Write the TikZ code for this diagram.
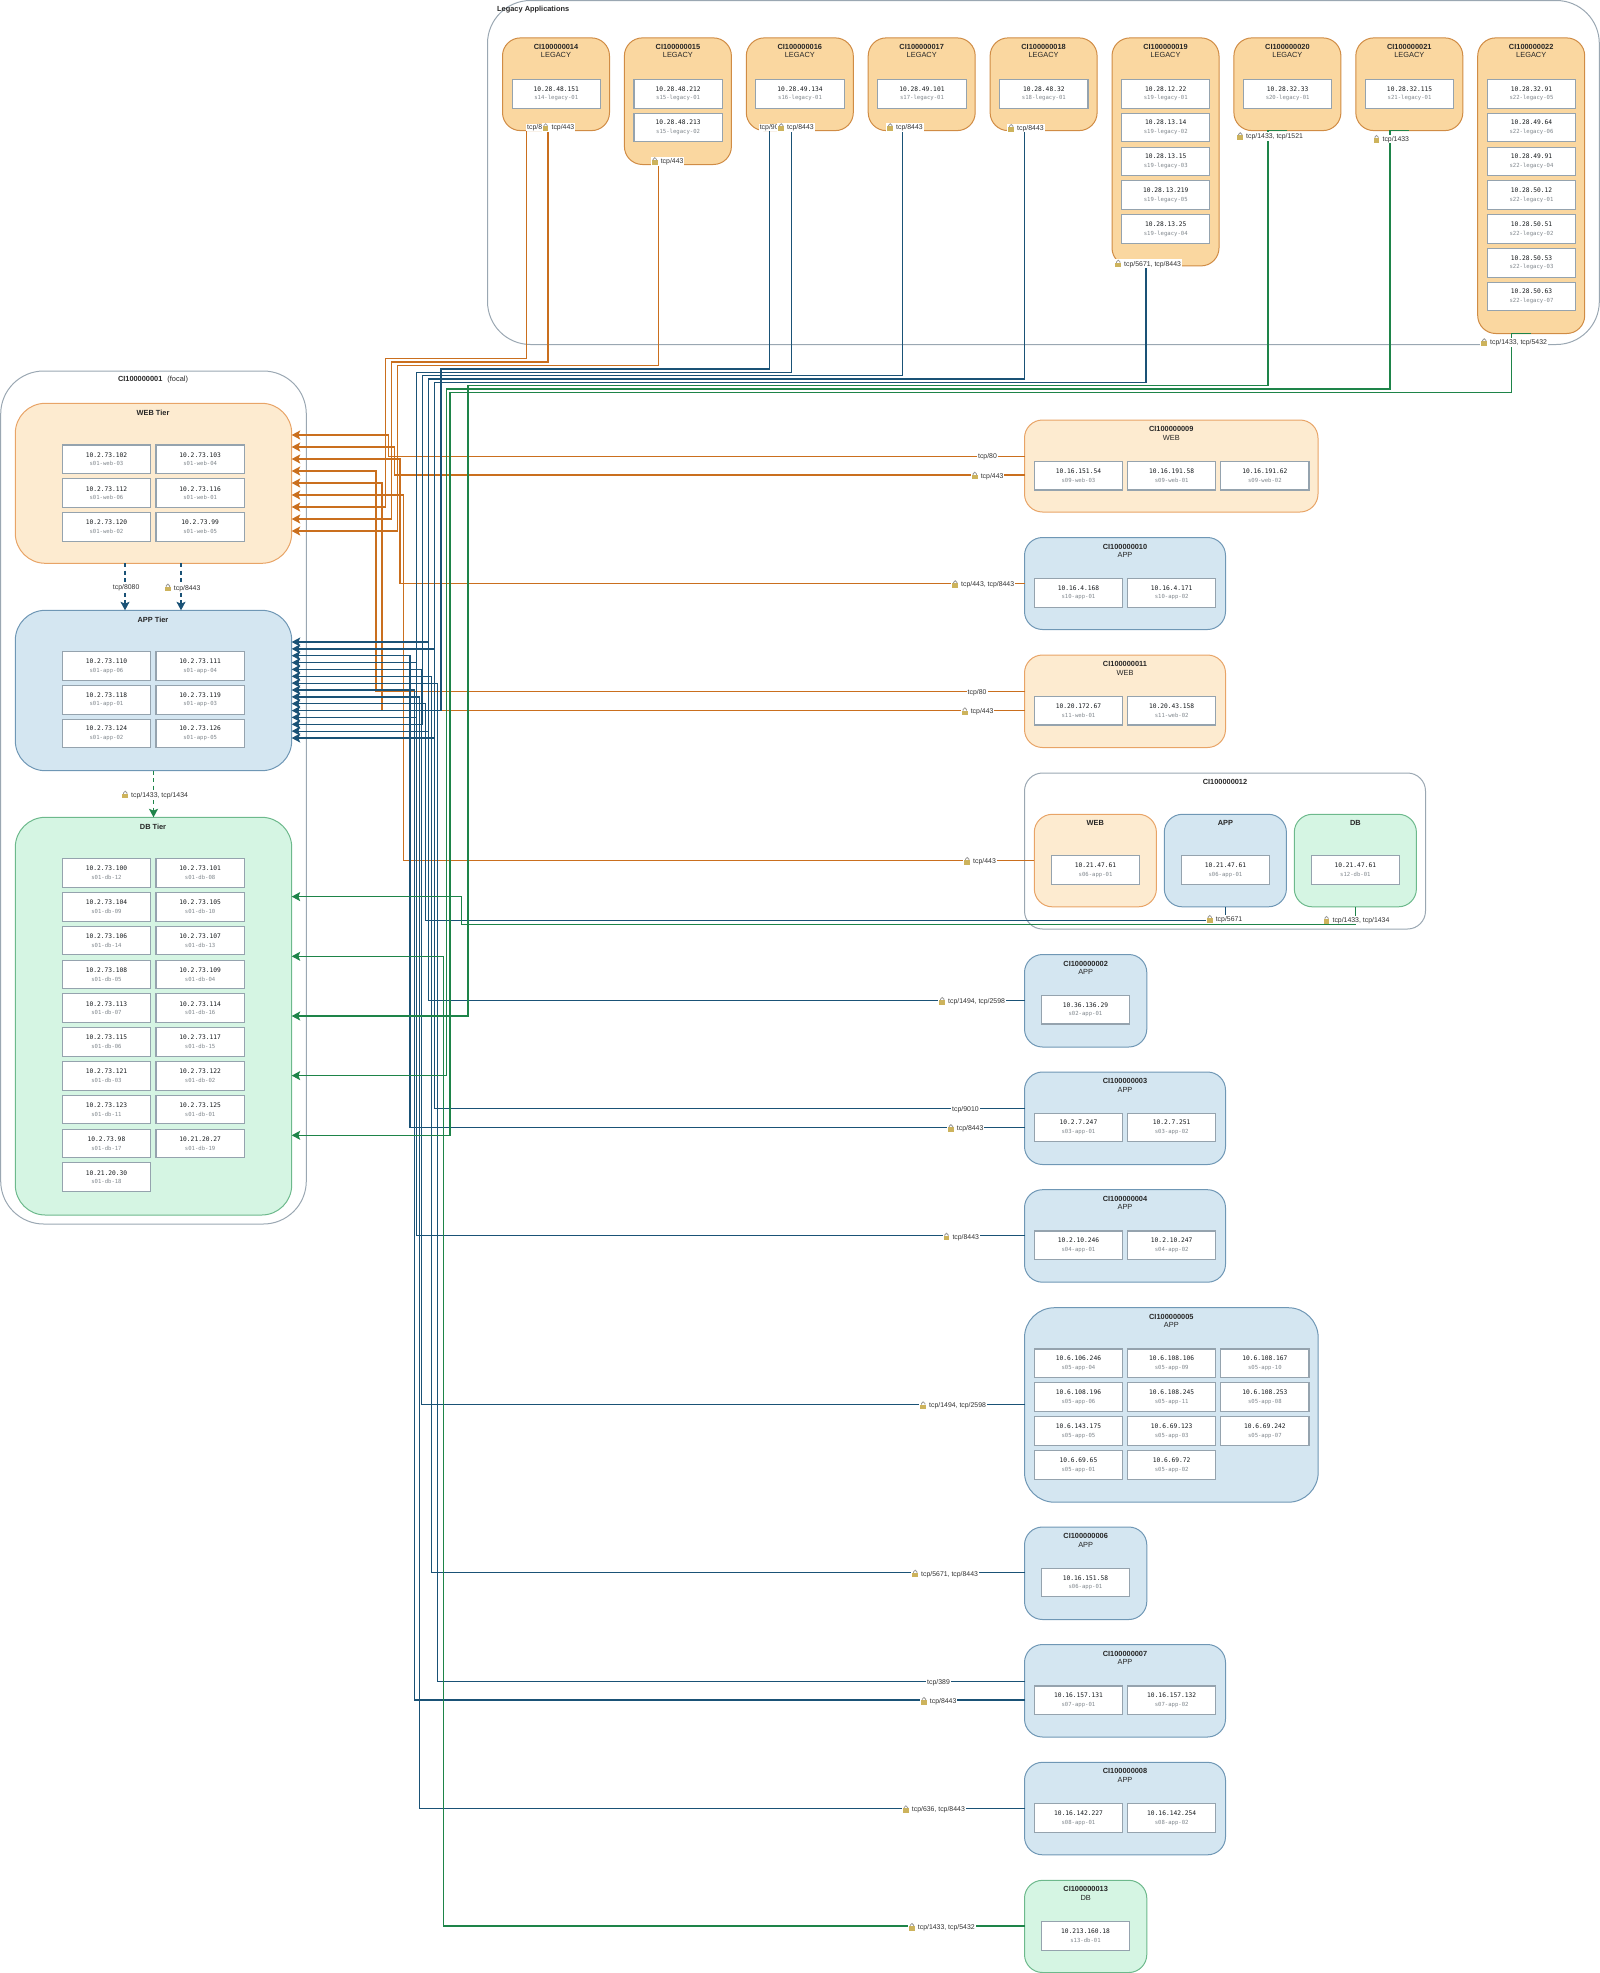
\documentclass[tikz,border=0pt]{standalone}
\usepackage{fontspec}
\setmainfont{Liberation Sans}
\setmonofont{DejaVu Sans Mono}
\usepackage{tikz}
\usepackage{xcolor}
\usetikzlibrary{arrows.meta, positioning, calc}

\definecolor{webfill}{HTML}{FDEBD0}
\definecolor{webline}{HTML}{E8A467}
\definecolor{webflow}{HTML}{CA6F1E}
\definecolor{appfill}{HTML}{D4E6F1}
\definecolor{appline}{HTML}{6F97B5}
\definecolor{appflow}{HTML}{1A5276}
\definecolor{dbfill}{HTML}{D5F5E3}
\definecolor{dbline}{HTML}{6DB98C}
\definecolor{dbflow}{HTML}{1E8449}
\definecolor{legacyfill}{HTML}{FAD7A0}
\definecolor{legacyline}{HTML}{D08C45}
\definecolor{groupline}{HTML}{9AA7B2}
\definecolor{hostline}{HTML}{95A3AE}
\definecolor{iptext}{HTML}{15191C}
\definecolor{nametext}{HTML}{80878D}
\definecolor{lockgold}{HTML}{CDB35C}
\definecolor{lockgrey}{HTML}{9A9A9A}

\newcommand{\hosttxt}[2]{{\fontsize{6.25}{8.7}\selectfont\ttfamily\color{iptext}#1}\\{\fontsize{5.6}{8.7}\selectfont\ttfamily\color{nametext}#2}}
\newcommand{\lockicon}{\tikz[x=1pt,y=1pt,baseline=1pt]{\fill[lockgold] (0,0) rectangle (5.6,4.4); \draw[lockgrey,line width=.8pt] (1.1,4.4) -- (1.1,5.4) arc (180:0:1.7) -- (4.5,4.4);}}
\newcommand{\locklabel}[1]{\lockicon\hspace{3.2pt}#1}

\begin{document}
\begin{tikzpicture}[
            x=1pt, y=-1pt,
            boxsize/.style 2 args={minimum width=#1pt, minimum height=#2pt},
            container/.style={rectangle, anchor=north west, inner sep=0pt, outer sep=0pt, line width=1pt, rounded corners=18pt},
            groupbox/.style={container, draw=groupline, rounded corners=43pt},
            ciplain/.style={container, draw=groupline},
            webbox/.style={container, draw=webline, fill=webfill},
            appbox/.style={container, draw=appline, fill=appfill},
            dbbox/.style={container, draw=dbline, fill=dbfill},
            legacybox/.style={container, draw=legacyline, fill=legacyfill, boxsize={107}{#1}},
            tier/.style={rounded corners=30pt, boxsize={276.4}{#1}},
            hostbox/.style={rectangle, anchor=north west, draw=hostline, fill=white, line width=1.1pt, inner sep=0pt, outer sep=0pt, boxsize={88.3}{28.6}, align=center, font=\fontsize{6.25}{8.7}\selectfont},
            titletext/.style={align=center, inner sep=0pt, text=black!85, font=\fontsize{7.4}{8.5}\selectfont},
            flowlabel/.style={anchor=west, fill=white, inner xsep=1pt, inner ysep=.5pt, text=black!80, font=\fontsize{6.9}{8}\selectfont},
            link/.style={line width=1.2pt, -{Stealth[length=8.5pt, width=9pt, inset=1.8pt]}},
            weblink/.style={link, draw=webflow!85, color=webflow},
            applink/.style={link, draw=appflow!85, color=appflow},
            dblink/.style={link, draw=dbflow!80, color=dbflow},
            tierdash/.style={dash pattern=on 4pt off 3.4pt}
        ]
\useasboundingbox (0,0) rectangle (1600,1973);

% Legacy group
\node[groupbox, boxsize={1111.8}{344}] (legacy) at (487.5,0.5) {};
\node[titletext, anchor=west, font=\fontsize{7.4}{8.5}\selectfont\bfseries] (legacyt) at (497,9.6) {Legacy Applications};

% Focal group
\node[groupbox, boxsize={305.6}{853}] (focal) at (0.7,371) {};
\node[titletext] (focalt) at (153,380) {\textbf{CI100000001}\hspace{5pt}(focal)};

% Focal tiers
\node[webbox, tier={160}] (webtier) at (15.3,403.3) {};
\node[titletext, font=\fontsize{7.4}{8.5}\selectfont\bfseries] (webtiert) at (153,412.8) {WEB Tier};
\node[appbox, tier={160.4}] (apptier) at (15.3,610.3) {};
\node[titletext, font=\fontsize{7.4}{8.5}\selectfont\bfseries] (apptiert) at (153,619.8) {APP Tier};
\node[dbbox, tier={397.7}] (dbtier) at (15.3,817.3) {};
\node[titletext, font=\fontsize{7.4}{8.5}\selectfont\bfseries] (dbtiert) at (153,826.5) {DB Tier};

% Web tier hosts
\node[hostbox] (w1) at (62.3,445) {\hosttxt{10.2.73.102}{s01-web-03}};
\node[hostbox] (w2) at (156,445) {\hosttxt{10.2.73.103}{s01-web-04}};
\node[hostbox] (w3) at (62.3,478.8) {\hosttxt{10.2.73.112}{s01-web-06}};
\node[hostbox] (w4) at (156,478.8) {\hosttxt{10.2.73.116}{s01-web-01}};
\node[hostbox] (w5) at (62.3,512.6) {\hosttxt{10.2.73.120}{s01-web-02}};
\node[hostbox] (w6) at (156,512.6) {\hosttxt{10.2.73.99}{s01-web-05}};

% App tier hosts
\node[hostbox] (a1) at (62.3,651.7) {\hosttxt{10.2.73.110}{s01-app-06}};
\node[hostbox] (a2) at (156,651.7) {\hosttxt{10.2.73.111}{s01-app-04}};
\node[hostbox] (a3) at (62.3,685.5) {\hosttxt{10.2.73.118}{s01-app-01}};
\node[hostbox] (a4) at (156,685.5) {\hosttxt{10.2.73.119}{s01-app-03}};
\node[hostbox] (a5) at (62.3,719.3) {\hosttxt{10.2.73.124}{s01-app-02}};
\node[hostbox] (a6) at (156,719.3) {\hosttxt{10.2.73.126}{s01-app-05}};

% DB tier hosts
\node[hostbox] (d1) at (62.3,858.7) {\hosttxt{10.2.73.100}{s01-db-12}};
\node[hostbox] (d2) at (156,858.7) {\hosttxt{10.2.73.101}{s01-db-08}};
\node[hostbox] (d3) at (62.3,892.5) {\hosttxt{10.2.73.104}{s01-db-09}};
\node[hostbox] (d4) at (156,892.5) {\hosttxt{10.2.73.105}{s01-db-10}};
\node[hostbox] (d5) at (62.3,926.3) {\hosttxt{10.2.73.106}{s01-db-14}};
\node[hostbox] (d6) at (156,926.3) {\hosttxt{10.2.73.107}{s01-db-13}};
\node[hostbox] (d7) at (62.3,960.1) {\hosttxt{10.2.73.108}{s01-db-05}};
\node[hostbox] (d8) at (156,960.1) {\hosttxt{10.2.73.109}{s01-db-04}};
\node[hostbox] (d9) at (62.3,993.9) {\hosttxt{10.2.73.113}{s01-db-07}};
\node[hostbox] (d10) at (156,993.9) {\hosttxt{10.2.73.114}{s01-db-16}};
\node[hostbox] (d11) at (62.3,1027.7) {\hosttxt{10.2.73.115}{s01-db-06}};
\node[hostbox] (d12) at (156,1027.7) {\hosttxt{10.2.73.117}{s01-db-15}};
\node[hostbox] (d13) at (62.3,1061.5) {\hosttxt{10.2.73.121}{s01-db-03}};
\node[hostbox] (d14) at (156,1061.5) {\hosttxt{10.2.73.122}{s01-db-02}};
\node[hostbox] (d15) at (62.3,1095.3) {\hosttxt{10.2.73.123}{s01-db-11}};
\node[hostbox] (d16) at (156,1095.3) {\hosttxt{10.2.73.125}{s01-db-01}};
\node[hostbox] (d17) at (62.3,1129.1) {\hosttxt{10.2.73.98}{s01-db-17}};
\node[hostbox] (d18) at (156,1129.1) {\hosttxt{10.21.20.27}{s01-db-19}};
\node[hostbox] (d19) at (62.3,1162.9) {\hosttxt{10.21.20.30}{s01-db-18}};

% Legacy applications
\node[legacybox={92.7}] (ci14) at (502.5,37.9) {};
\node[titletext] (ci14t) at ([yshift=-13.2pt]ci14.north) {\textbf{CI100000014}\\LEGACY};
\node[hostbox] (h14a) at (512.1,79.5) {\hosttxt{10.28.48.151}{s14-legacy-01}};

\node[legacybox={126.6}] (ci15) at (624.4,37.9) {};
\node[titletext] (ci15t) at ([yshift=-13.2pt]ci15.north) {\textbf{CI100000015}\\LEGACY};
\node[hostbox] (h15a) at (634,79.5) {\hosttxt{10.28.48.212}{s15-legacy-01}};
\node[hostbox] (h15b) at (634,113.3) {\hosttxt{10.28.48.213}{s15-legacy-02}};

\node[legacybox={92.7}] (ci16) at (746.3,37.9) {};
\node[titletext] (ci16t) at ([yshift=-13.2pt]ci16.north) {\textbf{CI100000016}\\LEGACY};
\node[hostbox] (h16a) at (755.9,79.5) {\hosttxt{10.28.49.134}{s16-legacy-01}};

\node[legacybox={92.7}] (ci17) at (868.2,37.9) {};
\node[titletext] (ci17t) at ([yshift=-13.2pt]ci17.north) {\textbf{CI100000017}\\LEGACY};
\node[hostbox] (h17a) at (877.8,79.5) {\hosttxt{10.28.49.101}{s17-legacy-01}};

\node[legacybox={92.7}] (ci18) at (990.1,37.9) {};
\node[titletext] (ci18t) at ([yshift=-13.2pt]ci18.north) {\textbf{CI100000018}\\LEGACY};
\node[hostbox] (h18a) at (999.7,79.5) {\hosttxt{10.28.48.32}{s18-legacy-01}};

\node[legacybox={228}] (ci19) at (1112,37.9) {};
\node[titletext] (ci19t) at ([yshift=-13.2pt]ci19.north) {\textbf{CI100000019}\\LEGACY};
\node[hostbox] (h19a) at (1121.6,79.5) {\hosttxt{10.28.12.22}{s19-legacy-01}};
\node[hostbox] (h19b) at (1121.6,113.3) {\hosttxt{10.28.13.14}{s19-legacy-02}};
\node[hostbox] (h19c) at (1121.6,147.1) {\hosttxt{10.28.13.15}{s19-legacy-03}};
\node[hostbox] (h19d) at (1121.6,180.9) {\hosttxt{10.28.13.219}{s19-legacy-05}};
\node[hostbox] (h19e) at (1121.6,214.7) {\hosttxt{10.28.13.25}{s19-legacy-04}};

\node[legacybox={92.7}] (ci20) at (1233.9,37.9) {};
\node[titletext] (ci20t) at ([yshift=-13.2pt]ci20.north) {\textbf{CI100000020}\\LEGACY};
\node[hostbox] (h20a) at (1243.5,79.5) {\hosttxt{10.28.32.33}{s20-legacy-01}};

\node[legacybox={92.7}] (ci21) at (1355.8,37.9) {};
\node[titletext] (ci21t) at ([yshift=-13.2pt]ci21.north) {\textbf{CI100000021}\\LEGACY};
\node[hostbox] (h21a) at (1365.4,79.5) {\hosttxt{10.28.32.115}{s21-legacy-01}};

\node[legacybox={295.6}] (ci22) at (1477.7,37.9) {};
\node[titletext] (ci22t) at ([yshift=-13.2pt]ci22.north) {\textbf{CI100000022}\\LEGACY};
\node[hostbox] (h22a) at (1487.3,79.5) {\hosttxt{10.28.32.91}{s22-legacy-05}};
\node[hostbox] (h22b) at (1487.3,113.3) {\hosttxt{10.28.49.64}{s22-legacy-06}};
\node[hostbox] (h22c) at (1487.3,147.1) {\hosttxt{10.28.49.91}{s22-legacy-04}};
\node[hostbox] (h22d) at (1487.3,180.9) {\hosttxt{10.28.50.12}{s22-legacy-01}};
\node[hostbox] (h22e) at (1487.3,214.7) {\hosttxt{10.28.50.51}{s22-legacy-02}};
\node[hostbox] (h22f) at (1487.3,248.5) {\hosttxt{10.28.50.53}{s22-legacy-03}};
\node[hostbox] (h22g) at (1487.3,282.3) {\hosttxt{10.28.50.63}{s22-legacy-07}};

% Web peers
\node[webbox, boxsize={293.5}{92}] (ci09) at (1024.5,420) {};
\node[titletext] (ci09t) at ([yshift=-13.2pt]ci09.north) {\textbf{CI100000009}\\WEB};
\node[hostbox] (h09a) at (1034.3,461.4) {\hosttxt{10.16.151.54}{s09-web-03}};
\node[hostbox] (h09b) at (1127.5,461.4) {\hosttxt{10.16.191.58}{s09-web-01}};
\node[hostbox] (h09c) at (1220.7,461.4) {\hosttxt{10.16.191.62}{s09-web-02}};

\node[appbox, boxsize={201}{92}] (ci10) at (1024.5,537.5) {};
\node[titletext] (ci10t) at ([yshift=-13.2pt]ci10.north) {\textbf{CI100000010}\\APP};
\node[hostbox] (h10a) at (1034.3,578.6) {\hosttxt{10.16.4.168}{s10-app-01}};
\node[hostbox] (h10b) at (1127.5,578.6) {\hosttxt{10.16.4.171}{s10-app-02}};

\node[webbox, boxsize={201}{92.5}] (ci11) at (1024.5,655) {};
\node[titletext] (ci11t) at ([yshift=-13.2pt]ci11.north) {\textbf{CI100000011}\\WEB};
\node[hostbox] (h11a) at (1034.3,696.4) {\hosttxt{10.20.172.67}{s11-web-01}};
\node[hostbox] (h11b) at (1127.5,696.4) {\hosttxt{10.20.43.158}{s11-web-02}};

% Multi tier peer
\node[ciplain, boxsize={401}{156}] (ci12) at (1024.5,773) {};
\node[titletext, font=\fontsize{7.4}{8.5}\selectfont\bfseries] (ci12t) at ([yshift=-8.6pt]ci12.north) {CI100000012};
\node[webbox, boxsize={122.1}{92.5}] (c12web) at (1034.3,814.3) {};
\node[titletext, font=\fontsize{7.4}{8.5}\selectfont\bfseries] (c12webt) at ([yshift=-8.6pt]c12web.north) {WEB};
\node[appbox, boxsize={122.1}{92.5}] (c12app) at (1164.3,814.3) {};
\node[titletext, font=\fontsize{7.4}{8.5}\selectfont\bfseries] (c12appt) at ([yshift=-8.6pt]c12app.north) {APP};
\node[dbbox, boxsize={122.1}{92.5}] (c12db) at (1294.3,814.3) {};
\node[titletext, font=\fontsize{7.4}{8.5}\selectfont\bfseries] (c12dbt) at ([yshift=-8.6pt]c12db.north) {DB};
\node[hostbox] (h12a) at (1051.4,855.7) {\hosttxt{10.21.47.61}{s06-app-01}};
\node[hostbox] (h12b) at (1181.3,855.7) {\hosttxt{10.21.47.61}{s06-app-01}};
\node[hostbox] (h12c) at (1311.2,855.7) {\hosttxt{10.21.47.61}{s12-db-01}};

% App peers
\node[appbox, boxsize={122.3}{92.5}] (ci02) at (1024.5,954.5) {};
\node[titletext] (ci02t) at ([yshift=-13.2pt]ci02.north) {\textbf{CI100000002}\\APP};
\node[hostbox] (h02a) at (1041.3,995.4) {\hosttxt{10.36.136.29}{s02-app-01}};

\node[appbox, boxsize={201}{92.5}] (ci03) at (1024.5,1072) {};
\node[titletext] (ci03t) at ([yshift=-13.2pt]ci03.north) {\textbf{CI100000003}\\APP};
\node[hostbox] (h03a) at (1034.3,1113.2) {\hosttxt{10.2.7.247}{s03-app-01}};
\node[hostbox] (h03b) at (1127.5,1113.2) {\hosttxt{10.2.7.251}{s03-app-02}};

\node[appbox, boxsize={201}{92.5}] (ci04) at (1024.5,1189.7) {};
\node[titletext] (ci04t) at ([yshift=-13.2pt]ci04.north) {\textbf{CI100000004}\\APP};
\node[hostbox] (h04a) at (1034.3,1231) {\hosttxt{10.2.10.246}{s04-app-01}};
\node[hostbox] (h04b) at (1127.5,1231) {\hosttxt{10.2.10.247}{s04-app-02}};

\node[appbox, rounded corners=30pt, boxsize={293.7}{194.5}] (ci05) at (1024.5,1307.7) {};
\node[titletext] (ci05t) at ([yshift=-13.2pt]ci05.north) {\textbf{CI100000005}\\APP};
\node[hostbox] (h05a) at (1034.3,1349) {\hosttxt{10.6.106.246}{s05-app-04}};
\node[hostbox] (h05b) at (1127.5,1349) {\hosttxt{10.6.108.106}{s05-app-09}};
\node[hostbox] (h05c) at (1220.7,1349) {\hosttxt{10.6.108.167}{s05-app-10}};
\node[hostbox] (h05d) at (1034.3,1382.9) {\hosttxt{10.6.108.196}{s05-app-06}};
\node[hostbox] (h05e) at (1127.5,1382.9) {\hosttxt{10.6.108.245}{s05-app-11}};
\node[hostbox] (h05f) at (1220.7,1382.9) {\hosttxt{10.6.108.253}{s05-app-08}};
\node[hostbox] (h05g) at (1034.3,1416.8) {\hosttxt{10.6.143.175}{s05-app-05}};
\node[hostbox] (h05h) at (1127.5,1416.8) {\hosttxt{10.6.69.123}{s05-app-03}};
\node[hostbox] (h05i) at (1220.7,1416.8) {\hosttxt{10.6.69.242}{s05-app-07}};
\node[hostbox] (h05j) at (1034.3,1450.7) {\hosttxt{10.6.69.65}{s05-app-01}};
\node[hostbox] (h05k) at (1127.5,1450.7) {\hosttxt{10.6.69.72}{s05-app-02}};

\node[appbox, boxsize={122.3}{92.5}] (ci06) at (1024.5,1527) {};
\node[titletext] (ci06t) at ([yshift=-13.2pt]ci06.north) {\textbf{CI100000006}\\APP};
\node[hostbox] (h06a) at (1041.3,1568.3) {\hosttxt{10.16.151.58}{s06-app-01}};

\node[appbox, boxsize={201}{92.5}] (ci07) at (1024.5,1644.5) {};
\node[titletext] (ci07t) at ([yshift=-13.2pt]ci07.north) {\textbf{CI100000007}\\APP};
\node[hostbox] (h07a) at (1034.3,1686) {\hosttxt{10.16.157.131}{s07-app-01}};
\node[hostbox] (h07b) at (1127.5,1686) {\hosttxt{10.16.157.132}{s07-app-02}};

\node[appbox, boxsize={201}{92.5}] (ci08) at (1024.5,1762.3) {};
\node[titletext] (ci08t) at ([yshift=-13.2pt]ci08.north) {\textbf{CI100000008}\\APP};
\node[hostbox] (h08a) at (1034.3,1803.7) {\hosttxt{10.16.142.227}{s08-app-01}};
\node[hostbox] (h08b) at (1127.5,1803.7) {\hosttxt{10.16.142.254}{s08-app-02}};

% DB peer
\node[dbbox, boxsize={122.3}{92.2}] (ci13) at (1024.5,1880.3) {};
\node[titletext] (ci13t) at ([yshift=-13.2pt]ci13.north) {\textbf{CI100000013}\\DB};
\node[hostbox] (h13a) at (1041.3,1921.7) {\hosttxt{10.213.160.18}{s13-db-01}};

% Arrow ends on the tiers
\foreach \k/\yy in {1/435,2/447,3/459,4/471,5/483,6/495,7/507,8/519,9/531}
    \coordinate (webin\k) at (webtier.east |- 0,\yy);
\foreach \k/\yy in {1/642,2/648.9,3/655.7,4/662.6,5/669.4,6/676.3,7/683.1,8/690,9/696.9,10/703.7,11/710.6,12/717.4,13/724.3,14/731.1,15/738}
    \coordinate (appin\k) at (apptier.east |- 0,\yy);
\foreach \k/\yy in {1/896.6,2/956.3,3/1016,4/1075.6,5/1135.3}
    \coordinate (dbin\k) at (dbtier.east |- 0,\yy);

% Web tier arrows
\draw[weblink] (ci09.west |- 0,456.2) -| (388.3,435) -- (webin1);
\draw[weblink] (ci09.west |- 0,475) -| (394.3,447) -- (webin2);
\draw[weblink] (ci10.west |- 0,583.2) -| (400,459) -- (webin3);
\draw[weblink] (ci11.west |- 0,691.4) -| (376,471) -- (webin4);
\draw[weblink] (ci11.west |- 0,710.5) -| (382,483) -- (webin5);
\draw[weblink] (c12web.west |- 0,860.3) -| (403.7,495) -- (webin6);
\draw[weblink] (ci14.south) -| (526.4,358.7) -| (385.3,507) -- (webin7);
\draw[weblink] (ci14.south) -| (547.9,362) -| (391.3,519) -- (webin8);
\draw[weblink] (ci15.south) -| (658.6,365.4) -| (397.3,531) -- (webin9);

% App tier arrows
\draw[applink] (ci02.west |- 0,1000.4) -| (428.3,642) -- (appin1);
\draw[applink] (ci03.west |- 0,1108.6) -| (434.3,648.9) -- (appin2);
\draw[applink] (ci03.west |- 0,1127.6) -| (410,655.7) -- (appin3);
\draw[applink] (ci04.west |- 0,1235.7) -| (416.3,662.6) -- (appin4);
\draw[applink] (ci05.west |- 0,1404.7) -| (421.8,669.4) -- (appin5);
\draw[applink] (ci06.west |- 0,1572.7) -| (431.7,676.3) -- (appin6);
\draw[applink] (ci07.west |- 0,1681.3) -| (437.7,683.1) -- (appin7);
\draw[applink] (ci07.west |- 0,1700) -| (414.3,690) -- (appin8);
\draw[applink] (ci08.west |- 0,1808.3) -| (419.3,696.9) -- (appin9);
\draw[applink] (c12app.south) |- (425.5,920.7) |- (appin10);
\draw[applink] (ci16.south) -| (769.6,368.9) -| (440.9,710.6) -- (appin11);
\draw[applink] (ci16.south) -| (791.4,372.2) -| (416.3,717.4) -- (appin12);
\draw[applink] (ci17.south) -| (902.5,375.5) -| (422.3,724.3) -- (appin13);
\draw[applink] (ci18.south) -| (1024.3,378.9) -| (428.5,731.1) -- (appin14);
\draw[applink] (ci19.south) -| (1146,382.2) -| (434.6,738) -- (appin15);

% DB tier arrows
\draw[dblink] (c12db.south) |- (461.7,924.3) |- (dbin1);
\draw[dblink] (ci13.west |- 0,1926) -| (443.3,956.3) -- (dbin2);
\draw[dblink] (ci20.south) -| (1267.9,385.7) -| (468,1016) -- (dbin3);
\draw[dblink] (ci21.south) -| (1390,389) -| (446.7,1075.6) -- (dbin4);
\draw[dblink] (ci22.south) -| (1511.4,392.3) -| (450,1135.3) -- (dbin5);

% Dashed links between tiers
\draw[applink, tierdash] (webtier.south -| 125,0) -- (apptier.north -| 125,0);
\draw[applink, tierdash] (webtier.south -| 181,0) -- (apptier.north -| 181,0);
\draw[dblink, tierdash] (apptier.south) -- (dbtier.north);

% Edge labels
\node[flowlabel] (lb14a) at (526,127.3) {tcp/80};
\node[flowlabel] (lb14b) at (541.6,127.3) {\locklabel{tcp/443}};
\node[flowlabel] (lb15) at (650.8,161.3) {\locklabel{tcp/443}};
\node[flowlabel] (lb16a) at (758.6,127.3) {tcp/9010};
\node[flowlabel] (lb16b) at (777.2,127.3) {\locklabel{tcp/8443}};
\node[flowlabel] (lb17) at (886.2,127.3) {\locklabel{tcp/8443}};
\node[flowlabel] (lb18) at (1007.2,128) {\locklabel{tcp/8443}};
\node[flowlabel] (lb19) at (1114.2,263.7) {\locklabel{tcp/5671, tcp/8443}};
\node[flowlabel] (lb20) at (1236.2,136.3) {\locklabel{tcp/1433, tcp/1521}};
\node[flowlabel] (lb21) at (1372.6,139) {\locklabel{tcp/1433}};
\node[flowlabel] (lb22) at (1480.2,342.3) {\locklabel{tcp/1433, tcp/5432}};
\node[flowlabel] (lb09a) at (976.9,457) {tcp/80};
\node[flowlabel] (lb09b) at (970.8,475.7) {\locklabel{tcp/443}};
\node[flowlabel] (lb10) at (951.2,584.3) {\locklabel{tcp/443, tcp/8443}};
\node[flowlabel] (lb11a) at (966.5,692.5) {tcp/80};
\node[flowlabel] (lb11b) at (960.8,711.4) {\locklabel{tcp/443}};
\node[flowlabel] (lb12a) at (963.2,861) {\locklabel{tcp/443}};
\node[flowlabel] (lb12b) at (1205.8,919) {\locklabel{tcp/5671}};
\node[flowlabel] (lb12c) at (1322.6,920) {\locklabel{tcp/1433, tcp/1434}};
\node[flowlabel] (lb02) at (938.2,1001) {\locklabel{tcp/1494, tcp/2598}};
\node[flowlabel] (lb03a) at (951,1109.6) {tcp/9010};
\node[flowlabel] (lb03b) at (946.9,1128.2) {\locklabel{tcp/8443}};
\node[flowlabel] (lb04) at (942.5,1236.8) {\locklabel{tcp/8443}};
\node[flowlabel] (lb05) at (919.2,1405.4) {\locklabel{tcp/1494, tcp/2598}};
\node[flowlabel] (lb06) at (911.2,1573.7) {\locklabel{tcp/5671, tcp/8443}};
\node[flowlabel] (lb07a) at (926,1682.3) {tcp/389};
\node[flowlabel] (lb07b) at (919.9,1701) {\locklabel{tcp/8443}};
\node[flowlabel] (lb08) at (901.9,1809.3) {\locklabel{tcp/636, tcp/8443}};
\node[flowlabel] (lb13) at (907.9,1927) {\locklabel{tcp/1433, tcp/5432}};
\node[flowlabel] (lbwa1) at (111.7,587.7) {tcp/8080};
\node[flowlabel] (lbwa2) at (163.9,587.7) {\locklabel{tcp/8443}};
\node[flowlabel] (lbad) at (121.2,794.7) {\locklabel{tcp/1433, tcp/1434}};

\end{tikzpicture}
\end{document}
